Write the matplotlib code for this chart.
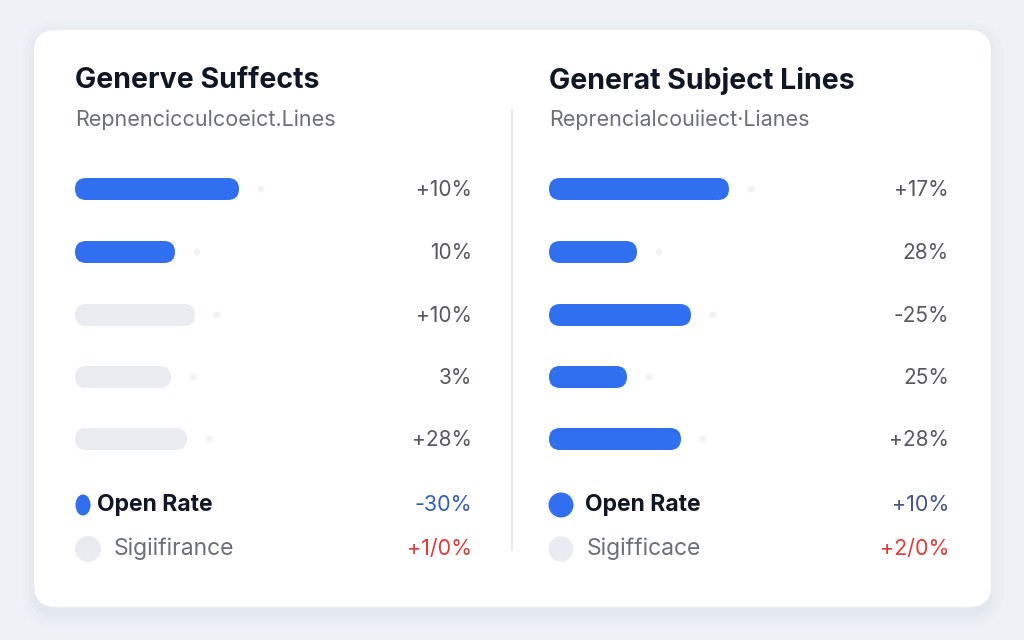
import matplotlib
matplotlib.use("Agg")
import matplotlib.pyplot as plt
from matplotlib.patches import FancyBboxPatch, Circle, Ellipse

# ---------------- data ----------------
titles = ["Generve Suffects", "Generat Subject Lines"]
subtitles = ["Repnencicculcoeict.Lines", "Reprencialcouiiect·Lianes"]
left_values = [41, 25, 30, 24, 28]          # bar length (scale 0-100)
right_values = [45, 22, 35.5, 19.5, 33]
left_highlight = [True, True, False, False, False]
right_highlight = [True, True, True, True, True]
left_labels = ["+10%", "10%", "+10%", "3%", "+28%"]
right_labels = ["+17%", "28%", "-25%", "25%", "+28%"]
legend_names_left = ["Open Rate", "Sigiifirance"]
legend_names_right = ["Open Rate", "Sigifficace"]
legend_vals_left = ["-30%", "+1/0%"]
legend_vals_right = ["+10%", "+2/0%"]

# ---------------- style ----------------
BG = "#eef2f7"
CARD = "#ffffff"
BLUE = "#2f6ff0"
GRAY_BAR = "#e9ecf0"
TXT_DARK = "#0f1626"
TXT_SUB = "#6b6f76"
TXT_VAL = "#55585e"
RED = "#e53935"
FONT = "Inter"

fig = plt.figure(figsize=(10.24, 6.4), dpi=100)
fig.patch.set_facecolor(BG)
ax = fig.add_axes([0, 0, 1, 1])
ax.set_xlim(0, 1024)
ax.set_ylim(640, 0)
ax.axis("off")

# card shadow + card
for i, a in enumerate([0.035, 0.03, 0.025, 0.02]):
    g = 3 + i * 4
    ax.add_patch(FancyBboxPatch((34 - g + 2, 30 - g + 6), 957 + 2 * g - 4, 577 + 2 * g,
                                boxstyle=f"round,pad=0,rounding_size={22 + g}",
                                fc="#8fa3c4", ec="none", alpha=a, zorder=1))
ax.add_patch(FancyBboxPatch((34, 30), 957, 577, boxstyle="round,pad=0,rounding_size=22",
                            fc=CARD, ec="none", zorder=2))

# divider
ax.plot([512, 512], [110, 550], color="#e6e8ec", lw=1.3, zorder=3)

row_y = [189, 252, 315, 377, 439]
px_per_unit = 4.0
bar_h = 22


def panel(x0, x_right, title, sub, values, hl, labels, lnames, lvals, left_oval):
    ax.text(x0, 81, title, fontsize=20.5, fontweight="bold", color=TXT_DARK,
            family=FONT, va="center", ha="left", zorder=5)
    ax.text(x0, 120, sub, fontsize=15.5, color=TXT_SUB, family=FONT,
            va="center", ha="left", zorder=5)
    for y, v, h, lab in zip(row_y, values, hl, labels):
        w = v * px_per_unit
        ax.add_patch(FancyBboxPatch((x0, y - bar_h / 2), w, bar_h,
                                    boxstyle=f"round,pad=0,rounding_size={bar_h/2}",
                                    fc=BLUE if h else GRAY_BAR, ec="none", zorder=4))
        ax.add_patch(Circle((x0 + w + 22, y), 3.5, fc="#f2f3f5", ec="none", zorder=4))
        ax.text(x_right, y + 1, lab, fontsize=15, color=TXT_VAL, family=FONT,
                va="center", ha="right", zorder=5)
    # legend
    ly = [505, 549]
    if left_oval:
        ax.add_patch(Ellipse((x0 + 8, ly[0]), 15, 21, fc=BLUE, ec="none", zorder=4))
        ax.add_patch(Circle((x0 + 13, ly[1]), 13, fc="#e8ebef", ec="none", zorder=4))
        tx = [x0 + 22, x0 + 39]
    else:
        ax.add_patch(Circle((x0 + 12, ly[0]), 12.5, fc=BLUE, ec="none", zorder=4))
        ax.add_patch(Circle((x0 + 12, ly[1]), 12.5, fc="#e8ebef", ec="none", zorder=4))
        tx = [x0 + 36, x0 + 38]
    ax.text(tx[0], ly[0], lnames[0], fontsize=16.5, fontweight="bold", color=TXT_DARK,
            family=FONT, va="center", ha="left", zorder=5)
    ax.text(tx[1], ly[1], lnames[1], fontsize=16.5, color=TXT_SUB, family=FONT,
            va="center", ha="left", zorder=5)
    ax.text(x_right, ly[0], lvals[0], fontsize=15.5,
            color="#2f5fc4" if left_oval else "#46558a", family=FONT,
            va="center", ha="right", zorder=5)
    ax.text(x_right, ly[1], lvals[1], fontsize=15.5, color=RED, family=FONT,
            va="center", ha="right", zorder=5)


panel(75, 472, titles[0], subtitles[0], left_values, left_highlight, left_labels,
      legend_names_left, legend_vals_left, True)
panel(549, 949, titles[1], subtitles[1], right_values, right_highlight, right_labels,
      legend_names_right, legend_vals_right, False)

fig.savefig("out.png", dpi=100, facecolor=BG)
